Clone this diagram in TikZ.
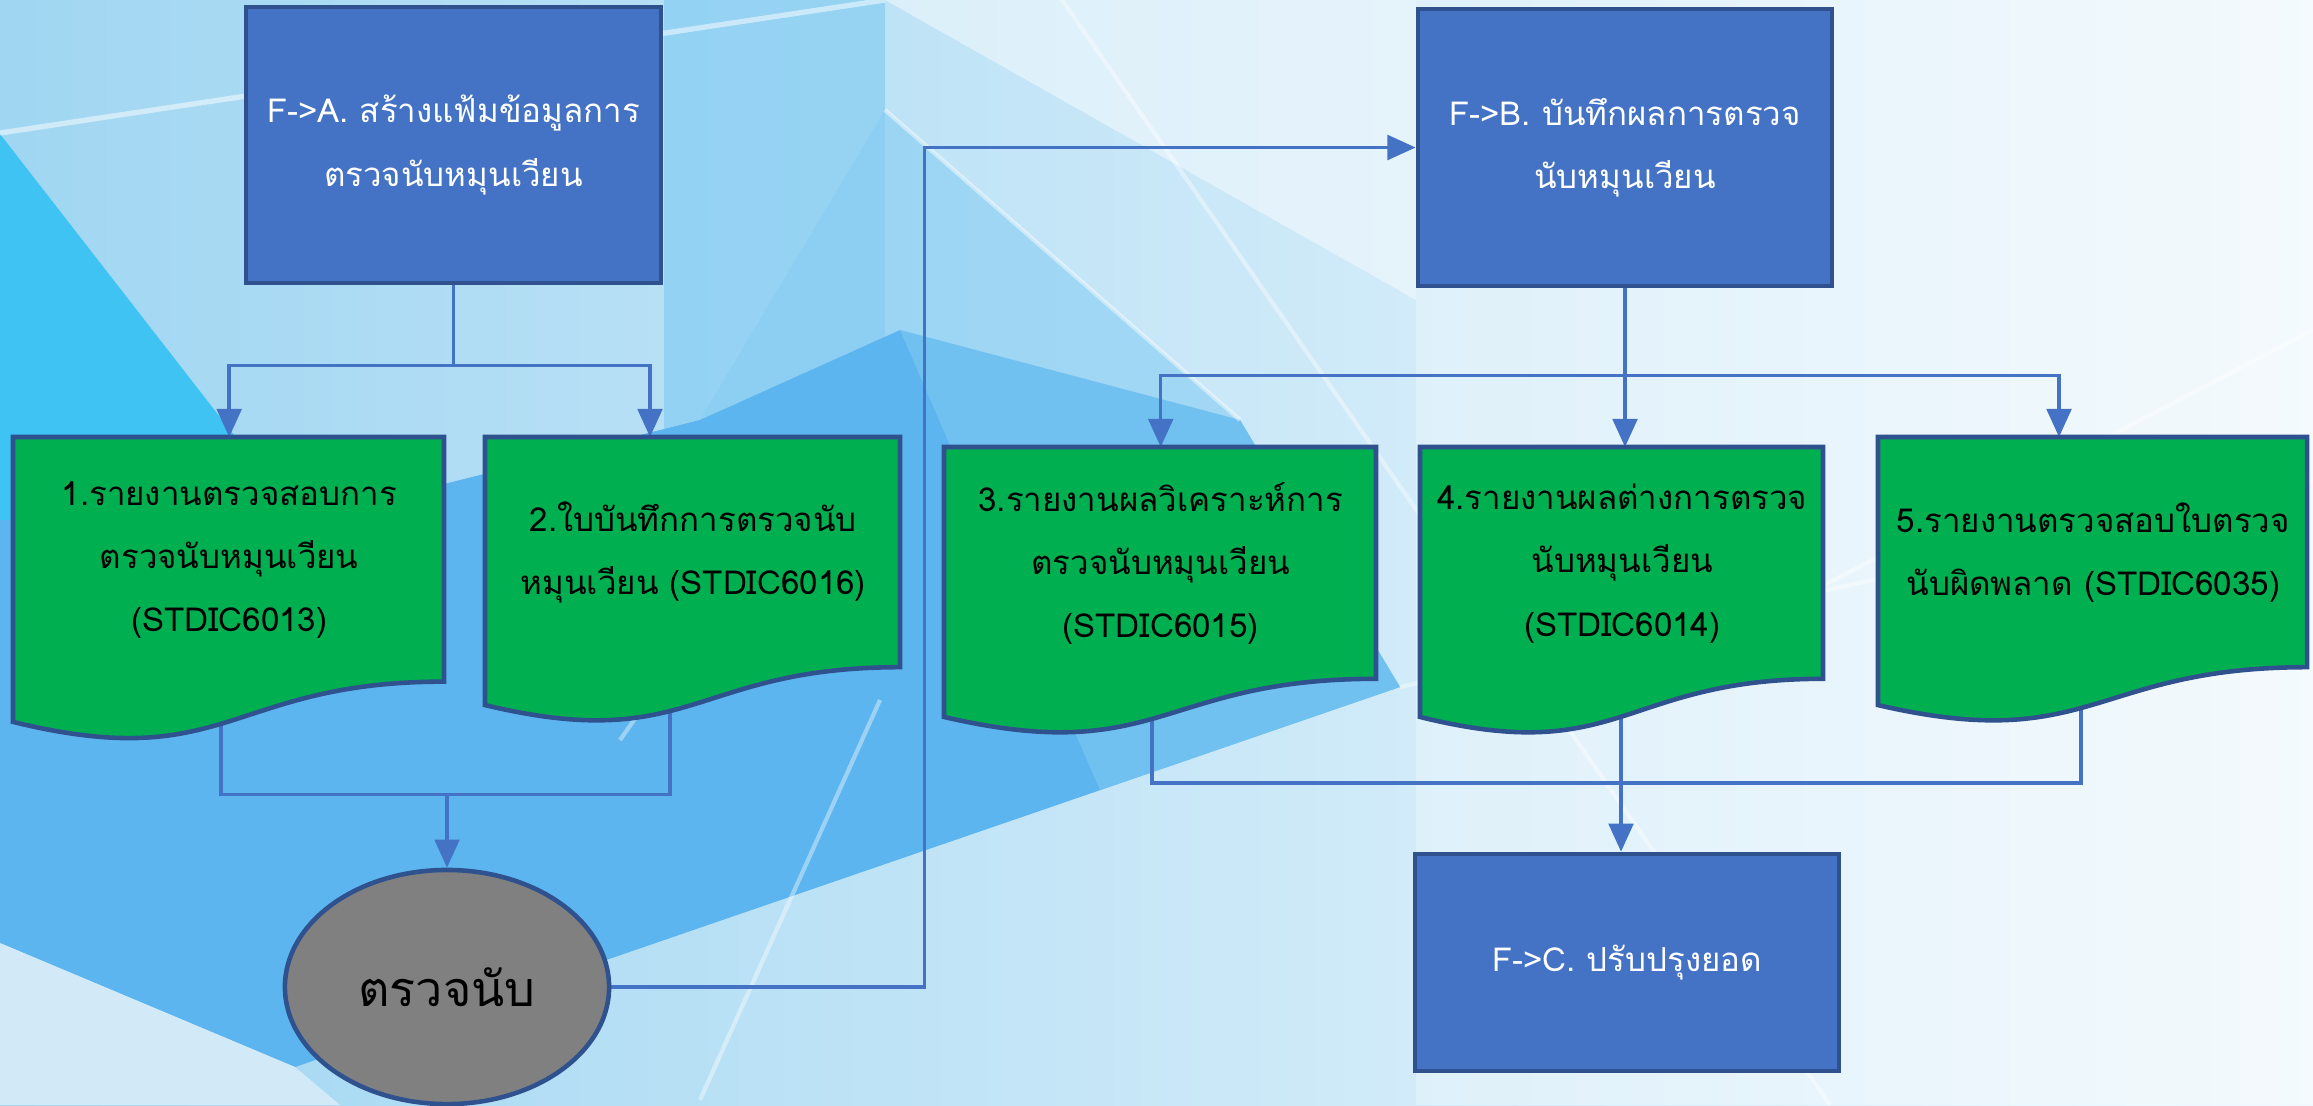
\documentclass[tikz,border=0pt]{standalone}
\usepackage{fontspec}
\newfontfamily\thai[Script=Thai]{Loma}
\usetikzlibrary{arrows.meta,shapes.geometric,calc}
\definecolor{boxblue}{HTML}{4472C4}
\definecolor{edgeblue}{HTML}{2F528F}
\definecolor{docgreen}{HTML}{00B050}
\definecolor{ellgray}{HTML}{808080}
\definecolor{bgleft}{HTML}{A0D6F2}
\definecolor{bgright}{HTML}{F0F8FD}
\definecolor{bgcyan}{HTML}{3EC3F3}
\definecolor{bgmid}{HTML}{5CB5EE}
\definecolor{bgwedge}{HTML}{86CDF3}
\definecolor{bglight}{HTML}{D2EAF8}
\pgfdeclarelayer{back}
\pgfdeclarelayer{bg}
\pgfsetlayers{back,bg,main}
\newcommand{\docbox}[6]{% name, x, y, w, h, text
  \fill[docgreen, draw=edgeblue, line width=1.3pt] (#2,#3) -- ({#2+#4},#3) -- ({#2+#4},{#3+0.802*#5})
    .. controls ({#2+0.5*#4},{#3+0.802*#5}) and ({#2+0.5*#4},{#3+1.107*#5}) .. (#2,{#3+0.934*#5}) -- cycle;
  \node[doctext, minimum width=#4*0.01cm, minimum height=0.802*#5*0.01cm, anchor=north west] (#1) at (#2,#3) {#6};
}
\begin{document}
\begin{tikzpicture}[x=0.01cm,y=-0.01cm,
  procbox/.style={draw=edgeblue, line width=1.3pt, fill=boxblue, text=white, align=center,
    font=\thai\fontsize{9.4}{18}\selectfont, inner sep=0pt},
  doctext/.style={align=center, text=black, font=\thai\fontsize{9.4}{18}\selectfont, inner sep=0pt},
  conn/.style={draw=boxblue, line width=1pt},
  arr/.style={conn, -{Triangle[length=8pt,width=7pt]}}]
\useasboundingbox (0,0) rectangle (2313,1105);
% background
\begin{pgfonlayer}{back}
\shade[left color=bgleft, right color=bgright] (0,0) rectangle (2313,1105);
\fill[bgwedge, opacity=0.7] (664,0) -- (885,0) -- (885,440) -- (664,440) -- cycle;
\fill[bgcyan] (0,134) -- (300,520) -- (0,520) -- cycle;
\fill[bgwedge, opacity=0.6] (885,110) -- (1240,420) -- (900,330) -- (700,420) -- cycle;
\fill[bgmid] (0,520) -- (300,520) -- (700,420) -- (900,330) -- (1240,420) -- (1400,687) -- (295,1067) -- (0,943) -- cycle;
\fill[bgwedge, opacity=0.5] (900,330) -- (1240,420) -- (1400,687) -- (1100,790) -- cycle;
\fill[bglight] (0,943) -- (295,1067) -- (340,1105) -- (0,1105) -- cycle;
\fill[white, opacity=0.3] (1416,0) -- (2313,0) -- (2313,1105) -- (1416,1105) -- cycle;
\fill[white, opacity=0.45] (885,0) -- (1416,0) -- (1416,300) -- cycle;
\draw[white, opacity=0.5, line width=1.5pt] (0,133) -- (885,0);
\draw[white, opacity=0.45, line width=1.2pt] (885,110) -- (1240,420);
\draw[white, opacity=0.4, line width=1.2pt] (1062,0) -- (1830,1105);
\draw[white, opacity=0.4, line width=1.2pt] (620,740) -- (760,540);
\draw[white, opacity=0.4, line width=1.2pt] (700,1100) -- (880,700);
\draw[white, opacity=0.4, line width=1.2pt] (1700,650) -- (2313,330);
\draw[white, opacity=0.4, line width=1.2pt] (1400,687) -- (2313,480);
\end{pgfonlayer}
% process boxes
\node[procbox, minimum width=4.15cm, minimum height=2.76cm] (A) at (453.5,145) {F->A. สร้างแฟ้มข้อมูลการ\\ตรวจนับหมุนเวียน};
\node[procbox, minimum width=4.14cm, minimum height=2.77cm] (B) at (1625,147.5) {F->B. บันทึกผลการตรวจ\\นับหมุนเวียน};
\node[procbox, minimum width=4.24cm, minimum height=2.17cm] (C) at (1627,962.5) {F->C. ปรับปรุงยอด};
% documents
\docbox{d1}{13}{437}{431}{305}{1.รายงานตรวจสอบการ\\ตรวจนับหมุนเวียน\\(STDIC6013)}
\docbox{d2}{485}{437}{415}{287}{2.ใบบันทึกการตรวจนับ\\หมุนเวียน (STDIC6016)}
\docbox{d3}{944}{447}{432}{289}{3.รายงานผลวิเคราะห์การ\\ตรวจนับหมุนเวียน\\(STDIC6015)}
\docbox{d4}{1420}{447}{403}{289}{4.รายงานผลต่างการตรวจ\\นับหมุนเวียน\\(STDIC6014)}
\docbox{d5}{1878}{437}{429}{287}{5.รายงานตรวจสอบใบตรวจ\\นับผิดพลาด (STDIC6035)}
% ellipse
\node[ellipse, draw=edgeblue, line width=1.3pt, fill=ellgray, minimum width=3.24cm, minimum height=2.34cm,
  font=\thai\fontsize{13.8}{18}\selectfont, inner sep=0pt] (E) at (447,987) {ตรวจนับ};
% connector points
\coordinate (d1b) at (221,700);
\coordinate (d2b) at (670,690);
\coordinate (d3b) at (1152,700);
\coordinate (d4b) at (1621,700);
\coordinate (d5b) at (2081,690);
\coordinate (d2t) at (650,437);
\coordinate (d5t) at (2059,437);
% connectors
\begin{pgfonlayer}{bg}
\path (A.south) ++(0,80) coordinate (jA);
\draw[conn] (A.south) -- (jA);
\draw[arr] (jA) -| (d1.north);
\draw[arr] (jA) -| (d2t);
\path (E.north) ++(0,-73) coordinate (j12);
\draw[conn] (d1b) |- (j12) -| (d2b);
\draw[arr] (j12) -- (E.north);
\draw[arr] (E.east) -- ++(313,0) |- (B.west);
\path (B.south) ++(0,87) coordinate (jB);
\draw[arr] (B.south) -- (B.south |- d4.north);
\draw[arr] (jB) -| (d3.north);
\draw[arr] (jB) -| (d5t);
\path (d4b) ++(0,83) coordinate (j35);
\draw[conn] (d3b) |- (j35) -| (d5b);
\draw[arr] (d4b) -- (d4b |- C.north);
\end{pgfonlayer}
\end{tikzpicture}
\end{document}
